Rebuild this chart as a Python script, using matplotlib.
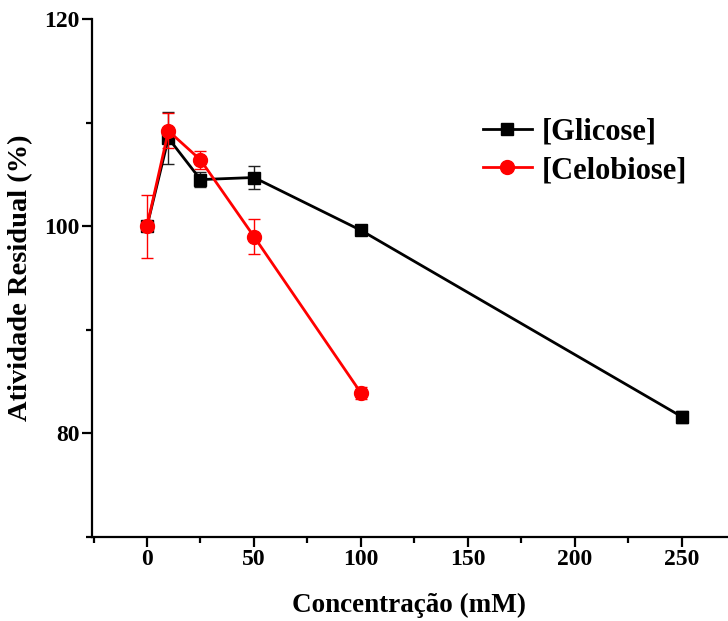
import matplotlib
matplotlib.use('Agg')
from matplotlib import pyplot as plt
from matplotlib.ticker import MultipleLocator

# concentration (mM)
conc_glic = [0, 10, 25, 50, 100, 250]
ativ_glic = [100.0, 108.5, 104.5, 104.7, 99.6, 81.6]
err_glic = [0.3, 2.5, 0.7, 1.1, 0.3, 0.6]

conc_celo = [0, 10, 25, 50, 100]
ativ_celo = [100.0, 109.2, 106.4, 99.0, 83.9]
err_celo = [3.05, 1.7, 0.85, 1.7, 0.6]

xticks = [0, 50, 100, 150, 200, 250]
yticks = [80, 100, 120]

plt.rcParams['font.family'] = ['Liberation Serif', 'DejaVu Serif']
plt.rcParams['font.weight'] = 'bold'

fig = plt.figure(figsize=(7.28, 6.21), dpi=100)
ax = fig.add_axes([0.1264, 0.1353, 0.872, 0.8341])

# error bars first, then lines + markers on top
ax.errorbar(conc_glic, ativ_glic, yerr=err_glic, fmt='none', ecolor='#222222',
            elinewidth=1, capsize=4, capthick=1, zorder=2)
ax.errorbar(conc_celo, ativ_celo, yerr=err_celo, fmt='none', ecolor='red',
            elinewidth=1, capsize=4, capthick=1, zorder=4)
ax.plot(conc_glic, ativ_glic, color='black', marker='s', markersize=8.5,
        linewidth=2, label='[Glicose]', zorder=3)
ax.plot(conc_celo, ativ_celo, color='red', marker='o', markersize=10,
        linewidth=2, label='[Celobiose]', zorder=5)

ax.set_xlim(-25.7, 271)
ax.set_ylim(70, 120)
ax.set_xticks(xticks)
ax.set_yticks(yticks)
ax.xaxis.set_minor_locator(MultipleLocator(25))
ax.yaxis.set_minor_locator(MultipleLocator(10))

for s in ['top', 'right']:
    ax.spines[s].set_visible(False)
for s in ['left', 'bottom']:
    ax.spines[s].set_linewidth(1.6)

ax.tick_params(which='major', direction='out', length=7, width=1.6,
               labelsize=17, pad=2)
ax.tick_params(which='minor', direction='out', length=4, width=1.6)
for lab in ax.get_xticklabels() + ax.get_yticklabels():
    lab.set_fontweight('bold')

ax.set_xlabel('Concentração (mM)', fontsize=19.5, fontweight='bold')
ax.xaxis.set_label_coords(0.5, -0.107)
ax.set_ylabel('Atividade Residual (%)', fontsize=20.5, fontweight='bold')
ax.yaxis.set_label_coords(-0.092, 0.5)

leg = ax.legend(loc='upper left', bbox_to_anchor=(0.572, 0.862), frameon=False,
                prop={'size': 22, 'weight': 'bold'}, handlelength=1.6,
                handletextpad=0.35, labelspacing=0.3)

fig.savefig('out.png', dpi=100)
